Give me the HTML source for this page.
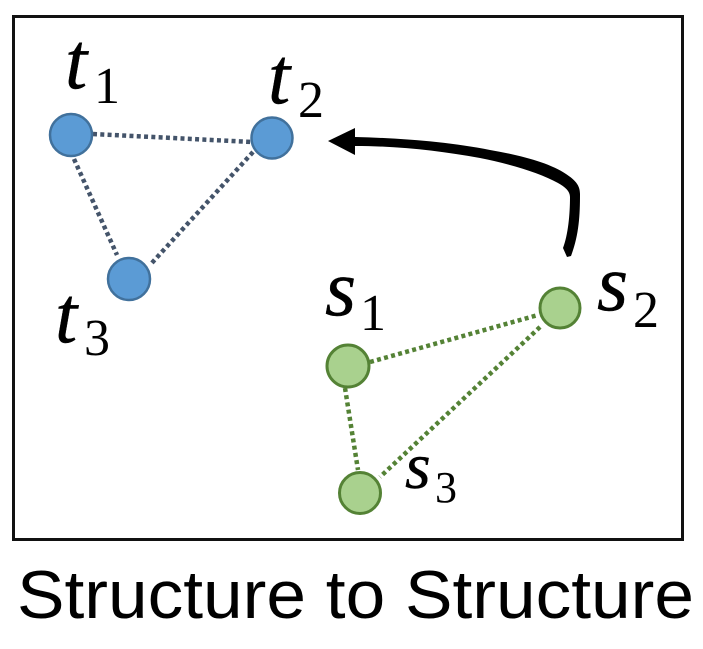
<!DOCTYPE html>
<html>
<head>
<meta charset="utf-8">
<style>
html,body{margin:0;padding:0;background:#fff;}
svg{display:block;}
</style>
</head>
<body>
<svg width="703" height="649" viewBox="0 0 703 649" xmlns="http://www.w3.org/2000/svg">
<rect x="0" y="0" width="703" height="649" fill="#fff"/>
<rect x="13.5" y="16.5" width="669" height="523" fill="#fff" stroke="#111" stroke-width="3"/>
<g stroke="#44546a" stroke-width="4.5" stroke-dasharray="4 3.3" fill="none">
<line x1="93" y1="134" x2="252" y2="142"/>
<line x1="74" y1="159" x2="117" y2="255"/>
<line x1="253" y1="152" x2="150" y2="265"/>
</g>
<g stroke="#548235" stroke-width="4.5" stroke-dasharray="4 3.3" fill="none">
<line x1="370" y1="362" x2="538" y2="315"/>
<line x1="345" y1="388" x2="358" y2="470"/>
<line x1="540" y1="327" x2="380" y2="477"/>
</g>
<g fill="#5b9bd5" stroke="#41719c" stroke-width="2.5">
<circle cx="71" cy="135" r="21"/>
<circle cx="272" cy="138" r="20.5"/>
<circle cx="129" cy="279" r="21"/>
</g>
<g fill="#a9d18e" stroke="#548235" stroke-width="3">
<circle cx="348" cy="366" r="21"/>
<circle cx="560" cy="308" r="20"/>
<circle cx="360" cy="493" r="20.5"/>
</g>
<path d="M355,137 C400,138 450,142 490,150 C520,155 550,163 566,174 C575,180 580,185 580,194 C580,215 579,235 571,256 L567,257 L563,248 C568,235 570,215 570,197 C570,191 565,187 558,183 C540,173 510,164 480,158 C440,151 400,146 355,146 Z" fill="#000"/>
<polygon points="328,141 355,128 355,155" fill="#000"/>
<g font-family="'Liberation Serif',serif" font-style="italic" fill="#000" stroke="#000" stroke-width="0.4">
<text x="65" y="88" font-size="80">t</text>
<text x="268" y="103" font-size="80">t</text>
<text x="55" y="342" font-size="80">t</text>
<text x="325" y="315" font-size="80">s</text>
<text x="597" y="310" font-size="80">s</text>
<text x="405" y="488" font-size="66">s</text>
</g>
<g font-family="'Liberation Serif',serif" fill="#000">
<text x="94" y="103" font-size="52">1</text>
<text x="298" y="117" font-size="52">2</text>
<text x="84" y="355" font-size="52">3</text>
<text x="360" y="330" font-size="52">1</text>
<text x="633" y="327" font-size="52">2</text>
<text x="435" y="502" font-size="44">3</text>
</g>
<text x="17" y="618" font-family="'Liberation Sans',sans-serif" font-size="68" fill="#000" textLength="677" lengthAdjust="spacingAndGlyphs">Structure to Structure</text>
</svg>
</body>
</html>
